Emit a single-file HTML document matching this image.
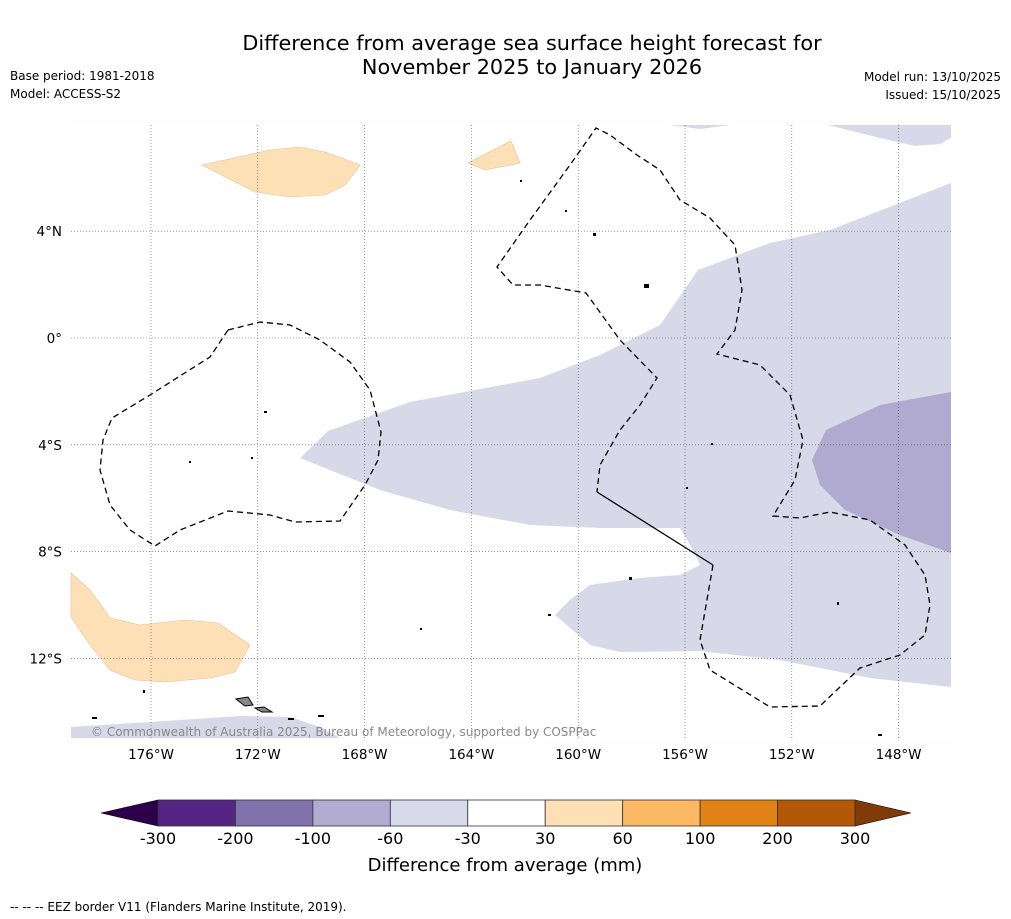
<!DOCTYPE html>
<html><head><meta charset="utf-8">
<style>
body{margin:0;background:#fff;}
svg{display:block;font-family:"DejaVu Sans","Liberation Sans",sans-serif;}
</style></head>
<body>
<svg id="c" width="1011" height="919" xmlns="http://www.w3.org/2000/svg">
<rect width="1011" height="919" fill="#fefefe"/>
<text x="532" y="50" font-size="20.8" text-anchor="middle">Difference from average sea surface height forecast for</text>
<text x="532" y="74" font-size="20.8" text-anchor="middle">November 2025 to January 2026</text>
<text x="10" y="80" font-size="12">Base period: 1981-2018</text>
<text x="10" y="98" font-size="12">Model: ACCESS-S2</text>
<text x="1001" y="81" font-size="12" text-anchor="end">Model run: 13/10/2025</text>
<text x="1001" y="99" font-size="12" text-anchor="end">Issued: 15/10/2025</text>
<g id="map">
<rect x="71" y="125" width="880" height="613" fill="#fff"/>
<polygon fill="#d8d8e9" points="300,458 328,431 410,402 540,378 600,355 660,325 698,270 770,243 830,230 951,183 951,687 870,678 780,660 700,651 620,652 590,645 555,615 570,600 590,585 640,578 680,575 700,565 690,545 680,528 600,528 530,525 450,510 380,490 330,470"/>
<polygon fill="#d8d8e9" points="828,125 880,138 915,146 940,144 951,138 951,125"/>
<polygon fill="#d8d8e9" points="670,125 700,129 730,125"/>
<polygon fill="#d8d8e9" points="71,727 150,722 240,716 290,717 320,727 340,738 71,738"/>
<polygon fill="#b0a9d0" points="951,392 880,405 826,430 812,460 820,485 845,510 900,535 951,553"/>
<polygon fill="#fde0b6" stroke="#e8c090" stroke-width="0.6" points="202,165 270,150 300,147 325,152 360,165 345,185 325,195 290,197 255,192"/>
<polygon fill="#fde0b6" stroke="#e8c090" stroke-width="0.6" points="468,163 511,141 520,163 485,170"/>
<polygon fill="#fde0b6" stroke="#e8c090" stroke-width="0.6" points="71,573 90,590 110,618 140,625 185,620 218,623 250,645 235,672 210,678 165,682 135,680 110,670 90,645 71,617"/>
<g id="grid"></g>
<polyline fill="none" stroke="#000" stroke-width="1.3" stroke-dasharray="6,4" points="228,330 260,322 290,325 320,340 350,362 370,390 381,432 378,460 365,485 340,521 295,522 270,515 228,511 180,530 155,546 130,530 110,505 100,470 103,440 112,418 150,395 210,357 228,330"/>
<polyline fill="none" stroke="#000" stroke-width="1.3" stroke-dasharray="6,4" points="713,565 700,640 710,670 770,707 820,706 860,668 900,655 925,635 930,605 925,575 905,545 870,520 830,512 800,518 773,516 795,480 803,440 790,395 760,365 717,354 735,330 742,290 735,245 710,218 680,200 660,170 637,155 610,135 596,128 570,165 530,220 497,267 513,285 540,285 586,293 620,340 657,378 640,405 620,430 600,465 597,492"/>
<polyline fill="none" stroke="#000" stroke-width="1.3" points="597,492 713,565"/>
<polygon fill="#888" stroke="#000" points="236,699 248,697 253,705 245,706"/>
<polygon fill="#888" stroke="#000" points="255,708 264,707 272,712 262,712"/>
<g fill="#000">
<rect x="264" y="411" width="3" height="2"/><rect x="251" y="457" width="2" height="2"/><rect x="189" y="461" width="2" height="2"/>
<rect x="593" y="233" width="3" height="3"/><rect x="644" y="284" width="5" height="4"/><rect x="629" y="577" width="3" height="3"/>
<rect x="548" y="614" width="3" height="2"/><rect x="143" y="690" width="2" height="3"/><rect x="92" y="717" width="5" height="2"/>
<rect x="288" y="718" width="6" height="2"/><rect x="318" y="715" width="6" height="2"/><rect x="420" y="628" width="2" height="2"/>
<rect x="711" y="443" width="2" height="2"/><rect x="686" y="487" width="2" height="2"/><rect x="837" y="602" width="2" height="3"/>
<rect x="878" y="734" width="4" height="2"/><rect x="520" y="180" width="2" height="2"/><rect x="565" y="210" width="2" height="2"/>
</g>
<text x="91" y="736" font-size="12" fill="#888">© Commonwealth of Australia 2025, Bureau of Meteorology, supported by COSPPac</text>
</g>
<g id="axes"></g>
<g id="cbar"></g>
<text x="505" y="871" font-size="18" text-anchor="middle">Difference from average (mm)</text>
<text x="10" y="911" font-size="12">--  --  -- EEZ border V11 (Flanders Marine Institute, 2019).</text>
</svg>
<script>
const lonTicks=[-176,-172,-168,-164,-160,-156,-152,-148];
const latTicks=[4,0,-4,-8,-12];
const cbLevels=[-300,-200,-100,-60,-30,30,60,100,200,300];
const cbColors=["#552585","#8073ac","#b2abd2","#d8daeb","#ffffff","#fee0b6","#fdb863","#e08214","#b35806"];
const cbEnds=["#2d004b","#7f3b08"];
const NS="http://www.w3.org/2000/svg";
function mk(t,a,p){const e=document.createElementNS(NS,t);for(const k in a)e.setAttribute(k,a[k]);p.appendChild(e);return e;}
const x=lon=>151+(lon+176)*26.7;
const y=lat=>338-lat*26.7;
const grid=document.getElementById('grid'),axes=document.getElementById('axes');
lonTicks.forEach(l=>{
 const g=mk('line',{x1:x(l),x2:x(l),y1:125,y2:738,stroke:'#555','stroke-width':0.6,'stroke-dasharray':'1,2'},grid);
 
 
 const t=mk('text',{x:x(l),y:759,'font-size':13.5,'text-anchor':'middle'},axes);
 t.textContent=Math.abs(l)+'°W';
 
 
});
latTicks.forEach(l=>{
 const g=mk('line',{x1:71,x2:951,y1:y(l),y2:y(l),stroke:'#555','stroke-width':0.6,'stroke-dasharray':'1,2'},grid);
 
 
 const t=mk('text',{x:62,y:y(l)+5,'font-size':13.5,'text-anchor':'end'},axes);
 t.textContent=l===0?'0°':Math.abs(l)+'°'+(l>0?'N':'S');
 
 
});
const cb=document.getElementById('cbar');
const cx0=158,cx1=855,cy=800,ch=26,seg=(cx1-cx0)/(cbLevels.length-1);
const lt=mk('polygon',{points:`${cx0},${cy} ${cx0},${cy+ch} 101,${cy+ch/2}`,fill:cbEnds[0],stroke:'#000','stroke-width':0.6},cb);


const rt=mk('polygon',{points:`${cx1},${cy} ${cx1},${cy+ch} 911,${cy+ch/2}`,fill:cbEnds[1],stroke:'#000','stroke-width':0.6},cb);


cbColors.forEach((c,i)=>{
 const r=mk('rect',{x:cx0+i*seg,y:cy,width:seg,height:ch,fill:c,stroke:'#333','stroke-width':0.8},cb);
 
 
});
cbLevels.forEach((v,i)=>{
 const t=mk('text',{x:cx0+i*seg,y:844,'font-size':16,'text-anchor':'middle'},cb);
 t.textContent=v;
 
 
});
</script>
</body></html>
